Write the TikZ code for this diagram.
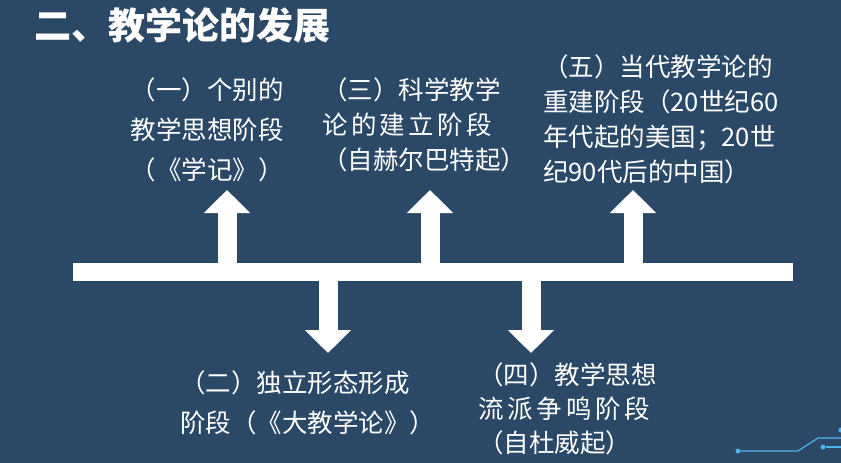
\documentclass[tikz,border=0pt]{standalone}
\usepackage{fontspec}
\setmainfont{Noto Sans CJK SC}
\usetikzlibrary{arrows.meta}
\definecolor{boardblue}{HTML}{2B4967}
\definecolor{wirecyan}{HTML}{4FB6EC}
\newcommand\spreadline[2]{\makebox[#1][s]{#2}}
\tikzset{
  stage/.style={text=white, inner sep=0pt, anchor=north west, align=left,
    font=\fontsize{25.5}{#1}\selectfont},
  stage/.default=36,
  uparrow/.style={white, line width=19pt, -{Triangle[width=45pt,length=23pt]}},
  wire/.style={wirecyan, line width=1.2pt},
  pad/.style={circle, fill=wirecyan, inner sep=0pt, minimum size=5pt}
}
\begin{document}
\begin{tikzpicture}[x=1pt,y=-1pt]
\fill[boardblue] (0,0) rectangle (841,463);
\useasboundingbox (0,0) rectangle (841,463);
\node[text=white, inner sep=0pt, anchor=north west, font=\fontsize{37}{40}\bfseries] (title) at (34,7) {二、教学论的发展};
% timeline
\node[fill=white, inner sep=0pt, minimum width=720pt, minimum height=18pt] (axis) at (433,272) {};
\coordinate (tip1) at (227,190);
\coordinate (tip2) at (328,353);
\coordinate (tip3) at (430,190);
\coordinate (tip4) at (531,353);
\coordinate (tip5) at (633,190);
\draw[uparrow] (tip1 |- axis.center) -- (tip1);
\draw[uparrow] (tip2 |- axis.center) -- (tip2);
\draw[uparrow] (tip3 |- axis.center) -- (tip3);
\draw[uparrow] (tip4 |- axis.center) -- (tip4);
\draw[uparrow] (tip5 |- axis.center) -- (tip5);
% stages
\node[stage=40, anchor=north, align=center] (st1) at (207,77) {（一）个别的\\教学思想阶段\\（《学记》）};
\node[stage=35] (st3) at (322,77) {（三）科学教学\\\spreadline{170pt}{论\hfill 的\hfill 建\hfill 立\hfill 阶\hfill 段}\\（自赫尔巴特起）};
\node[stage=35] (st5) at (543,54) {（五）当代教学论的\\重建阶段（20世纪60\\年代起的美国；20世\\纪90代后的中国）};
\node[stage=40] (st2) at (180,370) {（二）独立形态形成\\阶段（《大教学论》）};
\node[stage=34] (st4) at (478,362) {（四）教学思想\\\spreadline{172pt}{流\hfill 派\hfill 争\hfill 鸣\hfill 阶\hfill 段}\\（自杜威起）};
% circuit corner
\node[pad] (pa) at (738,451) {};
\node[pad] (pb) at (823,447) {};
\node[pad] (pc) at (841,430) {};
\coordinate (ka) at (798,451);
\coordinate (kb) at (818,438);
\coordinate (ea) at (841,438);
\coordinate (eb) at (841,447);
\draw[wire] (pa) -- (ka) -- (kb) -- (ea);
\draw[wire] (pb) -- (eb);
\end{tikzpicture}
\end{document}
